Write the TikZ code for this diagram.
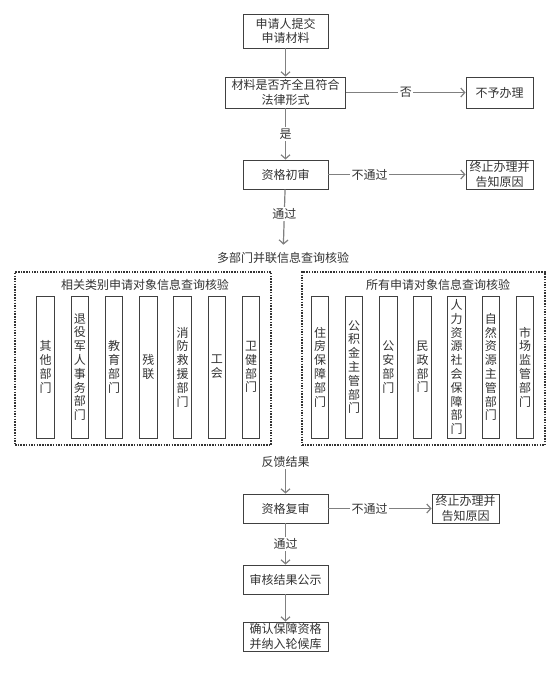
\documentclass[tikz,border=0pt]{standalone}
\usepackage{fontspec}
\setmainfont{Noto Sans CJK SC}
\usetikzlibrary{arrows.meta}

\tikzset{
  box/.style={draw=black!75, line width=0.9pt, text=black!80, align=center,
    inner sep=0pt, font=\fontsize{12}{14.3}\selectfont},
  col/.style={draw=black!75, line width=0.9pt, text=black!80, align=center,
    inner sep=0pt, minimum width=17.5pt, minimum height=142pt,
    font=\fontsize{12}{13.8}\selectfont},
  flow/.style={draw=black!50, line width=1.2pt,
    -{Straight Barb[length=4pt,width=9pt]}},
  lbl/.style={fill=white, text=black!80, inner sep=1.5pt,
    font=\fontsize{12}{14}\selectfont},
  group/.style={draw=black!80, line width=1.5pt, dash pattern=on 1.5pt off 1.2pt,
    inner sep=0pt},
}

\begin{document}
\begin{tikzpicture}[x=1pt,y=-1pt]
\useasboundingbox (0,0) rectangle (556,681);

% upper part
\node[box, minimum width=85pt, minimum height=34pt] (apply) at (285.5,31) {申请人提交\\申请材料};
\node[box, minimum width=120pt, minimum height=31pt] (check) at (285.5,92.5) {材料是否齐全且符合\\法律形式};
\node[box, minimum width=67pt, minimum height=31pt] (refuse) at (499.5,92.5) {不予办理};
\node[box, minimum width=85pt, minimum height=29pt] (first) at (285.5,174.5) {资格初审};
\node[box, minimum width=67pt, minimum height=29pt] (stopA) at (499.5,174.5) {终止办理并\\告知原因};

\draw[flow] (apply) -- (check);
\draw[flow] (check) -- node[lbl] {否} (refuse);
\draw[flow] (check) -- node[lbl] {是} (first);
\draw[flow] (first) -- node[lbl, pos=0.3] {不通过} (stopA);

% parallel checks
\node[lbl] (multi) at (283,258) {多部门并联信息查询核验};
\draw[flow, shorten >=6pt] (first) -- node[lbl, pos=0.4] {通过} (multi);

\node[group, minimum width=256pt, minimum height=173pt] (leftgrp) at (143,358.5) {};
\node[lbl] (lefttitle) at (145,285) {相关类别申请对象信息查询核验};
\foreach \t [count=\i from 0] in {{其\\他\\部\\门}, {退\\役\\军\\人\\事\\务\\部\\门},
    {教\\育\\部\\门}, {残\\联}, {消\\防\\救\\援\\部\\门}, {工\\会}, {卫\\健\\部\\门}}
  \node[col] (lc\i) at (45.5+34.27*\i,367) {\t};

\node[group, minimum width=243pt, minimum height=173pt] (rightgrp) at (423.5,358.5) {};
\node[lbl] (righttitle) at (438,285) {所有申请对象信息查询核验};
\foreach \t [count=\i from 0] in {{住\\房\\保\\障\\部\\门}, {公\\积\\金\\主\\管\\部\\门},
    {公\\安\\部\\门}, {民\\政\\部\\门}, {人\\力\\资\\源\\社\\会\\保\\障\\部\\门},
    {自\\然\\资\\源\\主\\管\\部\\门}, {市\\场\\监\\管\\部\\门}}
  \node[col] (rc\i) at (320+34.17*\i,367) {\t};

% lower part
\node[lbl] (feedback) at (285.5,462) {反馈结果};
\node[box, minimum width=85pt, minimum height=29pt] (review) at (285.5,508.5) {资格复审};
\node[box, minimum width=67pt, minimum height=29pt] (stopB) at (465.5,508.5) {终止办理并\\告知原因};
\node[box, minimum width=85pt, minimum height=29pt] (publish) at (285.5,579.5) {审核结果公示};
\node[box, minimum width=85pt, minimum height=29pt] (confirm) at (285.5,636.5) {确认保障资格\\并纳入轮候库};

\draw[flow] (feedback) -- (review);
\draw[flow] (review) -- node[lbl, pos=0.4] {不通过} (stopB);
\draw[flow] (review) -- node[lbl] {通过} (publish);
\draw[flow] (publish) -- (confirm);
\end{tikzpicture}
\end{document}
